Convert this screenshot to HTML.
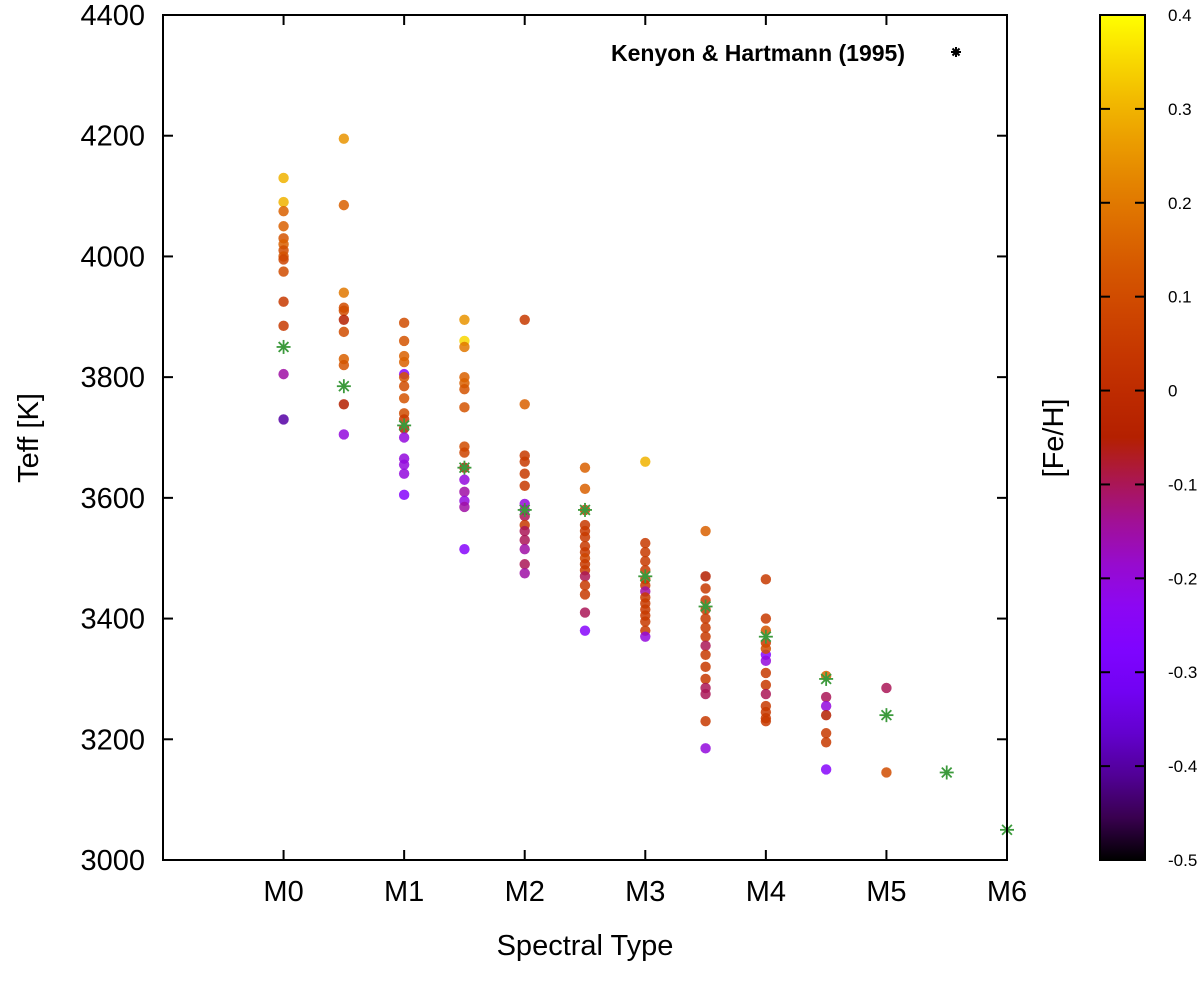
<!DOCTYPE html>
<html><head><meta charset="utf-8">
<style>
html,body{margin:0;padding:0;background:#fff;}
svg text{font-family:"Liberation Sans",sans-serif;}
</style></head>
<body>
<svg id="chart" width="1200" height="976" viewBox="0 0 1200 976" xmlns="http://www.w3.org/2000/svg">
<defs>
<linearGradient id="cbgrad" x1="0" y1="1" x2="0" y2="0"></linearGradient>
</defs>
</svg>
<script>
// ---- data ----
const xTickLabels = ["M0","M1","M2","M3","M4","M5","M6"];
const yTickValues = [3000,3200,3400,3600,3800,4000,4200,4400];
const cbTickValues = [-0.5,-0.4,-0.3,-0.2,-0.1,0,0.1,0.2,0.3,0.4];
// spectral subtype (0 = M0) , Teff , [Fe/H]
const sampleSpt = [
0,0,0,0,0,0,0,0,0,0,0,0,0,0,
0.5,0.5,0.5,0.5,0.5,0.5,0.5,0.5,0.5,0.5,0.5,
1,1,1,1,1,1,1,1,1,1,1,1,1,1,1,1,
1.5,1.5,1.5,1.5,1.5,1.5,1.5,1.5,1.5,1.5,1.5,1.5,1.5,1.5,1.5,
2,2,2,2,2,2,2,2,2,2,2,2,2,2,2,
2.5,2.5,2.5,2.5,2.5,2.5,2.5,2.5,2.5,2.5,2.5,2.5,2.5,2.5,2.5,2.5,
3,3,3,3,3,3,3,3,3,3,3,3,3,3,3,
3.5,3.5,3.5,3.5,3.5,3.5,3.5,3.5,3.5,3.5,3.5,3.5,3.5,3.5,3.5,3.5,
4,4,4,4,4,4,4,4,4,4,4,4,4,4,
4.5,4.5,4.5,4.5,4.5,4.5,4.5,
5,5];
const sampleTeff = [
4130,4090,4075,4050,4030,4020,4010,4000,3995,3975,3925,3885,3805,3730,
4195,4085,3940,3915,3910,3895,3875,3830,3820,3755,3705,
3890,3860,3835,3825,3805,3800,3785,3765,3740,3730,3715,3700,3665,3655,3640,3605,
3895,3860,3850,3800,3790,3780,3750,3685,3675,3650,3630,3610,3595,3585,3515,
3895,3755,3670,3660,3640,3620,3590,3580,3570,3555,3545,3530,3515,3490,3475,
3650,3615,3580,3555,3545,3535,3520,3510,3500,3490,3480,3470,3455,3440,3410,3380,
3660,3525,3510,3495,3480,3465,3455,3445,3435,3425,3415,3405,3395,3380,3370,
3545,3470,3450,3430,3415,3400,3385,3370,3355,3340,3320,3300,3285,3275,3230,3185,
3465,3400,3380,3360,3340,3330,3310,3290,3275,3255,3245,3235,3230,3350,
3305,3270,3255,3240,3210,3195,3150,
3285,3145];
const sampleFeH = [
0.3,0.3,0.15,0.15,0.12,0.15,0.1,0.12,0.08,0.1,0.05,0.05,-0.15,-0.4,
0.25,0.15,0.2,0.1,0.1,-0.05,0.1,0.15,0.12,-0.05,-0.2,
0.1,0.12,0.15,0.15,-0.25,0.12,0.1,0.12,0.1,0.05,-0.05,-0.2,-0.2,-0.2,-0.2,-0.25,
0.25,0.35,0.2,0.15,0.15,0.12,0.12,0.1,0.08,-0.05,-0.2,-0.15,-0.2,-0.15,-0.25,
0.05,0.15,0.05,0.05,0.05,0.05,-0.2,-0.15,-0.1,0.05,-0.1,-0.1,-0.15,-0.1,-0.15,
0.15,0.15,0.05,0.05,0.05,0.05,0.05,0.05,0.08,0.05,0.05,-0.1,0.05,0.05,-0.1,-0.25,
0.3,0.05,0.05,0.05,0.05,0.05,0.05,-0.15,0.05,0.05,0.05,0.05,0.05,0.05,-0.2,
0.15,-0.05,0.05,0.05,0.05,0.05,0.05,0.05,-0.1,0.05,0.05,0.05,-0.1,-0.1,0.05,-0.2,
0.05,0.05,0.12,0.05,-0.25,-0.2,0.05,0.05,-0.1,0.05,0.05,0.05,0.05,0.1,
0.15,-0.1,-0.2,-0.05,0.05,0.05,-0.25,
-0.1,0.1];
const khSpt = [0,0.5,1,1.5,2,2.5,3,3.5,4,4.5,5,5.5,6];
const khTeff = [3850,3785,3720,3650,3580,3580,3470,3420,3370,3300,3240,3145,3050];

// ---- layout ----
const NS="http://www.w3.org/2000/svg";
const svg=document.getElementById('chart');
const L=163,R=1007,T=15,B=860;
const xMin=-1,xMax=6,yMin=3000,yMax=4400;
const xs=v=>L+(v-xMin)/(xMax-xMin)*(R-L);
const ys=v=>B-(v-yMin)/(yMax-yMin)*(B-T);
const cbL=1100,cbR=1145,cbMin=-0.5,cbMax=0.4;
const cbY=v=>B-(v-cbMin)/(cbMax-cbMin)*(B-T);
function pal(f){ // gnuplot 7,5,15
  const x=Math.max(0,Math.min(1,(f-cbMin)/(cbMax-cbMin)));
  const r=Math.sqrt(x),g=x*x*x,b=Math.max(0,Math.sin(2*Math.PI*x));
  return `rgb(${Math.round(r*255)},${Math.round(g*255)},${Math.round(b*255)})`;
}
function el(tag,attrs,parent){const e=document.createElementNS(NS,tag);for(const k in attrs)e.setAttribute(k,attrs[k]);(parent||svg).appendChild(e);return e;}

// colorbar gradient
const grad=document.getElementById('cbgrad');
for(let i=0;i<=20;i++){el('stop',{offset:(i/20),'stop-color':pal(cbMin+i/20*(cbMax-cbMin))},grad);}

// points
const ptsG=el('g',{});


for(let i=0;i<sampleTeff.length;i++){
  const c=el('circle',{cx:xs(sampleSpt[i]),cy:ys(sampleTeff[i]),r:5.2,fill:pal(sampleFeH[i]),'fill-opacity':0.85},ptsG);
  
  
}
// KH stars
function star(cx,cy,s,color,parent,w){
  const g=el('g',{stroke:color,'stroke-width':w||2,fill:'none'},parent);
  el('line',{x1:cx-s,y1:cy,x2:cx+s,y2:cy},g);
  el('line',{x1:cx,y1:cy-s,x2:cx,y2:cy+s},g);
  el('line',{x1:cx-s*.7,y1:cy-s*.7,x2:cx+s*.7,y2:cy+s*.7},g);
  el('line',{x1:cx-s*.7,y1:cy+s*.7,x2:cx+s*.7,y2:cy-s*.7},g);
  return g;
}
const khG=el('g',{});


for(let i=0;i<khSpt.length;i++){
  const g=star(xs(khSpt[i]),ys(khTeff[i]),7,'#3c9a3c',khG,1.8);
  
  
}

// frame
const fr=el('rect',{x:L,y:T,width:R-L,height:B-T,fill:'none',stroke:'#000','stroke-width':2});



// y ticks
const yAx=el('g',{});


yTickValues.forEach(v=>{
  const y=ys(v);
  el('line',{x1:L,y1:y,x2:L+10,y2:y,stroke:'#000','stroke-width':2},yAx);
  el('line',{x1:R,y1:y,x2:R-10,y2:y,stroke:'#000','stroke-width':2},yAx);
  const t=el('text',{x:L-18,y:y+10,'text-anchor':'end','font-size':29,fill:'#000'},yAx);
  t.textContent=v;
  
  
});
// x ticks
const xAx=el('g',{});


xTickLabels.forEach((lab,i)=>{
  const x=xs(i);
  el('line',{x1:x,y1:B,x2:x,y2:B-10,stroke:'#000','stroke-width':2},xAx);
  el('line',{x1:x,y1:T,x2:x,y2:T+10,stroke:'#000','stroke-width':2},xAx);
  const t=el('text',{x:x,y:B+41,'text-anchor':'middle','font-size':29,fill:'#000'},xAx);
  t.textContent=lab;
  
  
});
let t=el('text',{x:585,y:955,'text-anchor':'middle','font-size':29,fill:'#000'});
t.textContent='Spectral Type';


t=el('text',{x:0,y:0,'text-anchor':'middle','font-size':29,fill:'#000',transform:'translate(38,438) rotate(-90)'});
t.textContent='Teff [K]';



// legend
t=el('text',{x:905,y:61,'text-anchor':'end','font-size':23,'font-weight':'bold',fill:'#000'});
t.textContent='Kenyon & Hartmann (1995)';


const lg=star(956,52,5,'#000',svg,2);



// colorbar
const cb=el('rect',{x:cbL,y:T,width:cbR-cbL,height:B-T,fill:'url(#cbgrad)',stroke:'#000','stroke-width':2});


cbTickValues.forEach(v=>{
  const y=cbY(v);
  el('line',{x1:cbL,y1:y,x2:cbL+10,y2:y,stroke:'#000','stroke-width':2});
  el('line',{x1:cbR,y1:y,x2:cbR-10,y2:y,stroke:'#000','stroke-width':2});
  const tt=el('text',{x:1168,y:y+6,'text-anchor':'start','font-size':17,fill:'#000'});
  tt.textContent=(Math.abs(v)<1e-9)?'0':String(v);
  
  
});
t=el('text',{x:0,y:0,'text-anchor':'middle','font-size':29,fill:'#000',transform:'translate(1063,438) rotate(-90)'});
t.textContent='[Fe/H]';


</script>
</body></html>
